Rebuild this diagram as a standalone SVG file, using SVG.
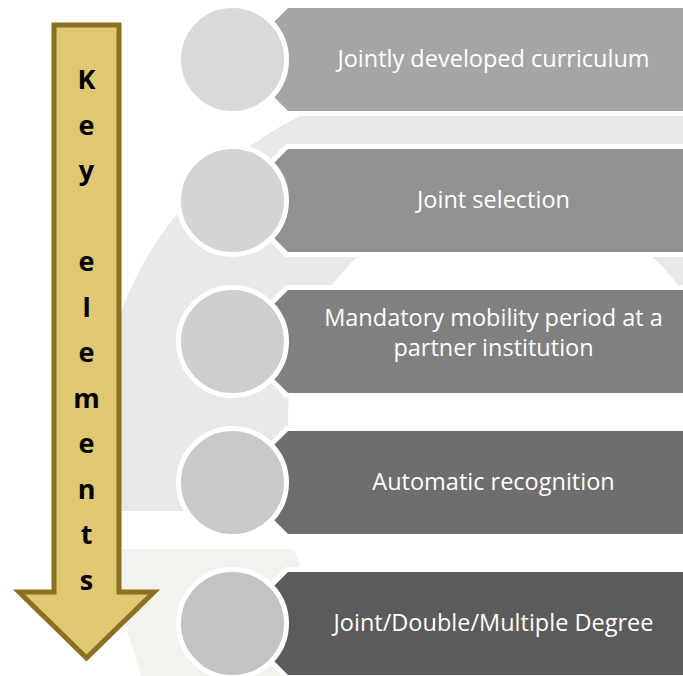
<svg xmlns="http://www.w3.org/2000/svg" width="683" height="676" viewBox="0 0 683 676">
  <defs>
    <clipPath id="ringClip"><rect x="0" y="0" width="683" height="511"/></clipPath>
    <style>
      .banner { stroke: #ffffff; stroke-width: 10; paint-order: stroke; stroke-linejoin: miter; }
      .dot { stroke: #ffffff; stroke-width: 5; }
      .lbl { font-family: "Open Sans", "Liberation Sans", sans-serif; font-size: 23.5px; fill: #ffffff; text-anchor: middle; }
      .key { font-family: "Open Sans", "Liberation Sans", sans-serif; font-size: 27px; font-weight: bold; fill: #000000; text-anchor: middle; }
    </style>
  </defs>
  <rect x="0" y="0" width="683" height="676" fill="#ffffff"/>

  <g id="background">
    <path clip-path="url(#ringClip)" fill="#e8e8e8" fill-rule="evenodd"
      d="M103,416 A402,349 0 1,0 907,416 A402,349 0 1,0 103,416 Z M288,416 A217,217 0 1,0 722,416 A217,217 0 1,0 288,416 Z"/>
    <path fill="#f4f2ec" d="M118,549 H288 Q297,549 300,567 L300,676 H141 L127,630 L118,600 Z"/>
  </g>

  <g id="arrow">
    <path d="M54,25 H119 V592 H154 L86.5,658 L19,592 H54 Z" fill="#e0c872" stroke="#8a7021" stroke-width="5"/>
    <text class="key" x="86.5" y="89">K</text>
    <text class="key" x="86.5" y="134.5">e</text>
    <text class="key" x="86.5" y="180">y</text>
    <text class="key" x="86.5" y="271">e</text>
    <text class="key" x="86.5" y="316.5">l</text>
    <text class="key" x="86.5" y="362">e</text>
    <text class="key" x="86.5" y="407.5">m</text>
    <text class="key" x="86.5" y="453">e</text>
    <text class="key" x="86.5" y="498.5">n</text>
    <text class="key" x="86.5" y="544">t</text>
    <text class="key" x="86.5" y="589.5">s</text>
  </g>

  <g id="item1">
    <polygon class="banner" fill="#a5a5a5" points="288,8 700,8 700,111 288,111 236.5,59.5"/>
    <circle class="dot" cx="232.5" cy="59.5" r="54" fill="#d9d9d9"/>
    <text class="lbl" x="493.5" y="67">Jointly developed curriculum</text>
  </g>
  <g id="item2">
    <polygon class="banner" fill="#919191" points="288,149 700,149 700,252 288,252 236.5,200.5"/>
    <circle class="dot" cx="232.5" cy="200.5" r="54" fill="#d4d4d4"/>
    <text class="lbl" x="493.5" y="208">Joint selection</text>
  </g>
  <g id="item3">
    <polygon class="banner" fill="#808080" points="288,290 700,290 700,393 288,393 236.5,341.5"/>
    <circle class="dot" cx="232.5" cy="341.5" r="54" fill="#cecece"/>
    <text class="lbl" x="493.5" y="326">Mandatory mobility period at a</text>
    <text class="lbl" x="493.5" y="356">partner institution</text>
  </g>
  <g id="item4">
    <polygon class="banner" fill="#6e6e6e" points="288,431 700,431 700,534 288,534 236.5,482.5"/>
    <circle class="dot" cx="232.5" cy="482.5" r="54" fill="#c9c9c9"/>
    <text class="lbl" x="493.5" y="490">Automatic recognition</text>
  </g>
  <g id="item5">
    <polygon class="banner" fill="#5b5b5b" points="288,572 700,572 700,675 288,675 236.5,623.5"/>
    <circle class="dot" cx="232.5" cy="623.5" r="54" fill="#c3c3c3"/>
    <text class="lbl" x="493.5" y="631">Joint/Double/Multiple Degree</text>
  </g>
</svg>
